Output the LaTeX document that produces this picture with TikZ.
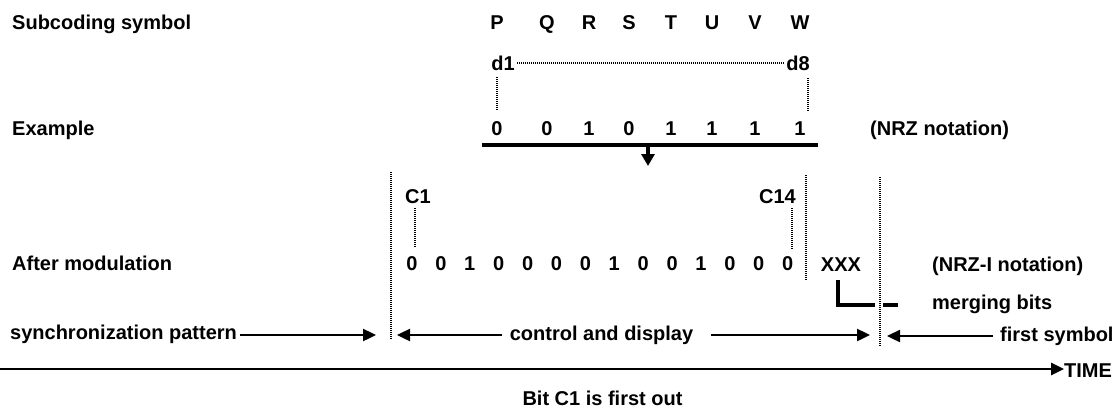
\documentclass[tikz,border=0pt]{standalone}
\usepackage{fontspec}
\setmainfont{Liberation Sans}
\usetikzlibrary{arrows.meta,calc}

\begin{document}
\begin{tikzpicture}[x=1pt,y=-1pt,
  txt/.style={font=\bfseries\fontsize{20}{22}\selectfont, inner sep=0pt, anchor=base},
  lbl/.style={txt, anchor=base west},
  dots/.style={line width=1.5pt, dash pattern=on 1pt off 1pt},
  arr/.style={line width=2.4pt, -{Triangle[length=13pt,width=12pt]}},
  rulebar/.style={line width=4pt}]
\useasboundingbox (0,0) rectangle (1117,410);

% row labels
\node[lbl] (sub)  at (12,29)  {Subcoding symbol};
\node[lbl] (ex)   at (12,135) {Example};
\node[lbl] (am)   at (12,270) {After modulation};
\node[lbl] (sync) at (10,339) {synchronization pattern};

% subcoding symbols and their example bits
\foreach \l/\x [count=\i] in {P/497,Q/547,R/589,S/629,T/671,U/712,V/755,W/800}
  \node[txt] (s\i) at (\x,29) {\l};
\foreach \b/\x [count=\i] in {0/497,0/547,1/589,0/629,1/671,1/712,1/755,1/800}
  \node[txt] (e\i) at (\x,135) {\b};
\node[lbl] (nrz) at (870,135) {(NRZ notation)};

% d1 ... d8
\node[txt] (d1) at (503,70) {d1};
\node[txt] (d8) at (798,70) {d8};
\draw[dots] ([xshift=2pt]d1.east) -- ([xshift=-2pt]d8.west);
\draw[dots] ($(e1.north |- d1.south)+(0,7)$) -- ($(e1.north)+(0,-10)$);
\draw[dots] ($(d8.south east)+(-2,8)$) -- ($(d8.south east |- e8.north)+(-2,-10)$);

% modulation bar and arrow
\coordinate (barL) at (482,145);
\coordinate (barR) at (818,145);
\coordinate (barM) at (648,143);
\coordinate (barT) at (648,166);
\draw[rulebar] (barL) -- (barR);
\draw[line width=4pt, -{Triangle[length=12pt,width=13pt]}] (barM) -- (barT);

% modulated channel bits
\foreach \b [count=\i] in {0,0,1,0,0,0,0,1,0,0,1,0,0,0}
  \node[txt] (m\i) at ({412+28.9*(\i-1)},270) {\b};
\node[txt] (c1)  at (418,203) {C1};
\node[txt] (c14) at (777.5,203) {C14};
\draw[dots] ($(c1.south)+(-3,5)$) -- ($(c1.south |- m1.north)+(-3,-9)$);
\draw[dots] ($(c14.south east)+(-4,5)$) -- ($(c14.south east |- m14.north)+(-4,-7)$);
\node[txt] (xxx) at (841,271) {XXX};
\node[lbl] (nrzi) at (932,271) {(NRZ-I notation)};
\node[lbl] (merge) at (932,309) {merging bits};

% frame boundaries
\coordinate (bA1) at (391,172); \coordinate (bA2) at (391,340);
\coordinate (bB1) at (806,175); \coordinate (bB2) at (806,281);
\coordinate (bC1) at (880,177); \coordinate (bC2) at (880,347);
\draw[dots] (bA1) -- (bA2);
\draw[dots] (bB1) -- (bB2);
\draw[dots] (bC1) -- (bC2);

% merging bits bracket
\coordinate (mbEnd) at (875,305);
\coordinate (mbD1) at (883,305);
\coordinate (mbD2) at (898,305);
\draw[rulebar] ($(xxx.south)+(-3,9)$) |- (mbEnd);
\draw[rulebar] (mbD1) -- (mbD2);

% frame sections
\node[txt] (cd) at (601.5,340) {control and display};
\node[lbl] (fs) at (1000,341) {first symbol};
\coordinate (syncTip) at (376,335);
\coordinate (cdL) at (397,335);
\coordinate (cdR) at (870,335);
\coordinate (fsTip) at (887,336);
\draw[arr] ($(sync.east |- syncTip)+(3,0)$) -- (syncTip);
\draw[arr] ($(cd.west |- cdL)+(-8,0)$) -- (cdL);
\draw[arr] ($(cd.east |- cdR)+(18,0)$) -- (cdR);
\draw[arr] ($(fs.west |- fsTip)+(-7,0)$) -- (fsTip);

% time axis
\node[lbl] (time) at (1064,377) {TIME};
\coordinate (t0) at (0,369);
\draw[line width=2.6pt, -{Triangle[length=13pt,width=12pt]}] (t0) -- (time.west |- t0);
\node[txt] (bit) at (602.5,405) {Bit C1 is first out};
\end{tikzpicture}
\end{document}
